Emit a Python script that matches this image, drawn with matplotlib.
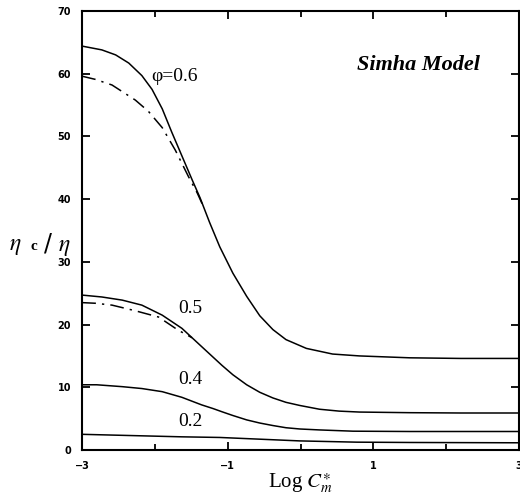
import numpy as np
from matplotlib import pyplot as plt

plt.rcParams['mathtext.fontset'] = 'stix'

# values (Simha model); solid = full curve, dashdot = approximation
x06 = [-3.0, -2.73, -2.54, -2.36, -2.18, -2.04, -1.90, -1.77, -1.63, -1.49, -1.38, -1.25, -1.11,
       -0.93, -0.74, -0.56, -0.38, -0.20, 0.08, 0.44, 0.81, 1.5, 2.2, 3.0]
y06 = [64.4, 63.8, 63.0, 61.7, 59.7, 57.5, 54.4, 50.7, 46.9, 43.1, 40.2, 36.3, 32.4,
       28.2, 24.5, 21.4, 19.2, 17.6, 16.2, 15.3, 15.0, 14.7, 14.6, 14.6]
x06d = [-3.0, -2.82, -2.59, -2.27, -2.09, -1.90, -1.72, -1.54, -1.42, -1.33]
y06d = [59.6, 59.1, 58.2, 55.8, 54.0, 51.4, 47.8, 43.6, 41.0, 38.7]

x05 = [-3.0, -2.73, -2.45, -2.18, -1.90, -1.63, -1.36, -1.08, -0.93, -0.74, -0.56, -0.38,
       -0.20, -0.01, 0.26, 0.53, 0.81, 1.5, 2.2, 3.0]
y05 = [24.7, 24.4, 23.9, 23.1, 21.5, 19.4, 16.5, 13.5, 12.0, 10.4, 9.2, 8.3,
       7.6, 7.1, 6.5, 6.2, 6.05, 5.95, 5.9, 5.9]
x05d = [-3.0, -2.82, -2.59, -2.27, -1.95, -1.68, -1.49]
y05d = [23.5, 23.4, 23.1, 22.2, 21.2, 19.1, 17.9]

x04 = [-3.0, -2.8, -2.45, -2.18, -1.90, -1.63, -1.36, -1.20, -1.08, -0.93, -0.74, -0.56,
       -0.38, -0.20, -0.01, 0.26, 0.72, 1.5, 2.2, 3.0]
y04 = [10.4, 10.4, 10.1, 9.8, 9.3, 8.4, 7.2, 6.6, 6.1, 5.5, 4.8, 4.3,
       3.9, 3.55, 3.35, 3.2, 3.0, 2.95, 2.95, 2.95]

x02 = [-3.0, -1.63, -1.11, -0.01, 0.77, 1.5, 3.0]
y02 = [2.5, 2.1, 2.0, 1.45, 1.25, 1.2, 1.15]

curve_labels = ["φ=0.6", "0.5", "0.4", "0.2"]
label_x = [-2.05, -1.68, -1.68, -1.68]
label_y = [59.5, 22.6, 11.2, 4.6]

fig = plt.figure(figsize=(5.2, 5.0), dpi=100)
ax = fig.add_axes([0.158, 0.1, 0.84, 0.878])

dashdot = (0, (9, 4, 1.5, 4))
ax.plot(x06, y06, color='black', lw=1.1)
ax.plot(x06d, y06d, color='black', lw=1.1, linestyle=dashdot)
ax.plot(x05, y05, color='black', lw=1.1)
ax.plot(x05d, y05d, color='black', lw=1.1, linestyle=dashdot)
ax.plot(x04, y04, color='black', lw=1.1)
ax.plot(x02, y02, color='black', lw=1.1)

for t, lx, ly in zip(curve_labels, label_x, label_y):
    ax.text(lx, ly, t, fontsize=14, family=['Liberation Serif', 'DejaVu Serif'], va='center', ha='left')

ax.text(0.78, 61.4, "Simha Model", fontsize=16, family='Liberation Serif', style='italic',
        fontweight='bold', va='center', ha='left')

ax.set_xlim(-3, 3)
ax.set_ylim(0, 70)
ax.set_xticks([-3, -1, 1, 3])
ax.set_xticks([-2, 0, 2], minor=True)
ax.set_yticks(range(0, 71, 10))
ax.tick_params(which='both', direction='in', top=True, right=True, width=1.3)
ax.tick_params(which='major', length=6, labelsize=7, pad=8)
ax.tick_params(which='minor', length=4)
for lab in ax.get_xticklabels() + ax.get_yticklabels():
    lab.set_fontweight('bold')
for s in ax.spines.values():
    s.set_linewidth(1.5)

ax.set_xlabel(r"Log $C_m^{\ast}$", fontsize=15, family='Liberation Serif', labelpad=0)
fig.text(0.018, 0.51, r"$\eta$", fontsize=17, va='center', ha='left')
fig.text(0.058, 0.508, "c", fontsize=11, family='Liberation Serif', fontweight='bold', va='center', ha='left')
fig.text(0.083, 0.51, r"/ $\eta$", fontsize=17, va='center', ha='left')

plt.savefig("out.png", dpi=100)
